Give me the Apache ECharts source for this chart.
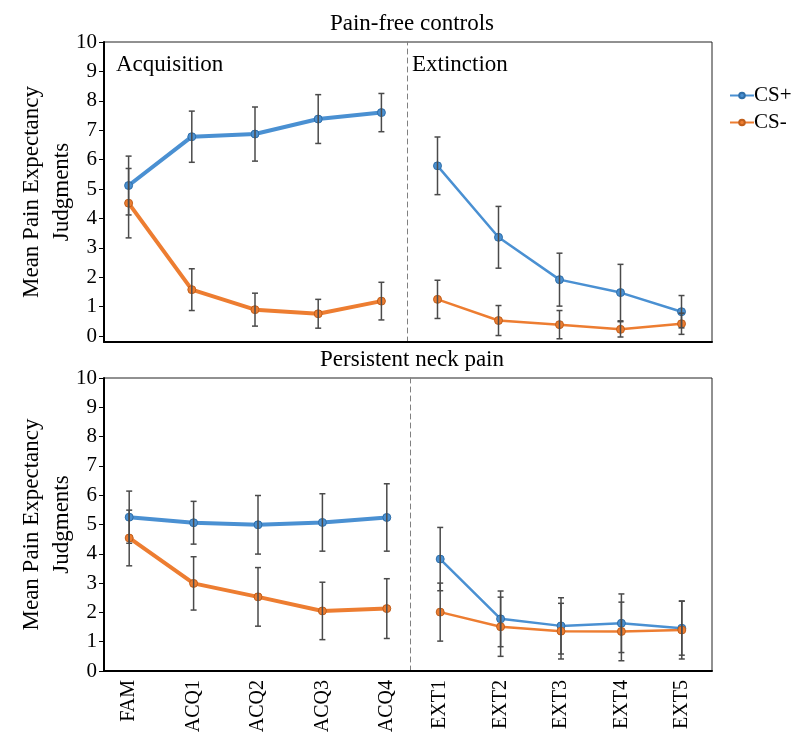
<!DOCTYPE html>
<html>
<head>
<meta charset="utf-8">
<script src="https://cdn.jsdelivr.net/npm/echarts@6/dist/echarts.min.js"></script>
<style>
html,body{margin:0;padding:0;background:#fff;}
#chart{width:793px;height:734px;}
</style>
</head>
<body>
<div id="chart"></div>
<script>
// ---------- data ----------
const categoriesAcq = ['FAM', 'ACQ1', 'ACQ2', 'ACQ3', 'ACQ4'];
const categoriesExt = ['EXT1', 'EXT2', 'EXT3', 'EXT4', 'EXT5'];
const yTicks = [0, 1, 2, 3, 4, 5, 6, 7, 8, 9, 10];
const panelTitles = ['Pain-free controls', 'Persistent neck pain'];
const yAxisName = 'Mean Pain Expectancy\nJudgments';
const seriesNames = ['CS+', 'CS-'];

// Pain-free controls
const pfPlusAcq = [5.12, 6.78, 6.87, 7.38, 7.60];
const pfPlusAcqErr = [1.00, 0.87, 0.92, 0.83, 0.65];
const pfMinusAcq = [4.52, 1.58, 0.90, 0.76, 1.19];
const pfMinusAcqErr = [1.18, 0.71, 0.56, 0.49, 0.64];
const pfPlusExt = [5.79, 3.36, 1.92, 1.48, 0.83];
const pfPlusExtErr = [0.98, 1.05, 0.90, 0.96, 0.55];
const pfMinusExt = [1.25, 0.53, 0.39, 0.23, 0.42];
const pfMinusExtErr = [0.65, 0.51, 0.48, 0.26, 0.36];

// Persistent neck pain
const npPlusAcq = [5.25, 5.06, 4.99, 5.07, 5.24];
const npPlusAcqErr = [0.89, 0.73, 1.00, 0.98, 1.15];
const npMinusAcq = [4.54, 2.99, 2.53, 2.05, 2.13];
const npMinusAcqErr = [0.95, 0.91, 1.00, 0.98, 1.02];
const npPlusExt = [3.82, 1.78, 1.54, 1.63, 1.46];
const npPlusExtErr = [1.08, 0.95, 0.96, 1.00, 0.92];
const npMinusExt = [2.01, 1.51, 1.36, 1.35, 1.40];
const npMinusExtErr = [0.99, 1.01, 0.95, 1.00, 0.99];

// ---------- styling ----------
const FONT = "'Liberation Serif', 'Times New Roman', serif";
const BLUE = '#4a90d2';
const BLUE_DARK = '#2f6ea8';
const ORANGE = '#ed7d31';
const ORANGE_DARK = '#c05f1c';
const ERR = '#4a4a4a';

const chart = echarts.init(document.getElementById('chart'), null, {renderer: 'canvas'});

function errData(cats, vals, errs) {
  return cats.map((c, i) => [c, vals[i] - errs[i], vals[i] + errs[i]]);
}

function errSeries(xi, cats, vals, errs) {
  return {
    type: 'custom',
    name: 'err',
    xAxisIndex: xi, yAxisIndex: xi,
    z: 5,
    silent: true,
    encode: {x: 0, y: [1, 2]},
    data: errData(cats, vals, errs),
    renderItem: function (params, api) {
      const xv = api.value(0);
      const lo = api.coord([xv, api.value(1)]);
      const hi = api.coord([xv, api.value(2)]);
      const hw = 3;
      const st = {stroke: ERR, lineWidth: 1.5};
      return {
        type: 'group',
        children: [
          {type: 'line', shape: {x1: lo[0], y1: lo[1], x2: hi[0], y2: hi[1]}, style: st},
          {type: 'line', shape: {x1: lo[0] - hw, y1: lo[1], x2: lo[0] + hw, y2: lo[1]}, style: st},
          {type: 'line', shape: {x1: hi[0] - hw, y1: hi[1], x2: hi[0] + hw, y2: hi[1]}, style: st}
        ]
      };
    }
  };
}

function lineSeries(xi, name, vals, color, dark, width, size) {
  return {
    type: 'line',
    name: name,
    xAxisIndex: xi, yAxisIndex: xi,
    data: vals,
    z: 3,
    symbol: 'circle',
    symbolSize: size,
    showSymbol: true,
    lineStyle: {color: color, width: width},
    itemStyle: {color: color, borderColor: dark, borderWidth: 1},
    emphasis: {disabled: true}
  };
}

const panels = [
  {top: 42, height: 300, ymin: -0.2, accLeft: 97, accW: 316, extLeft: 407, extW: 305, labels: false},
  {top: 378, height: 293, ymin: 0, accLeft: 97, accW: 322, extLeft: 410, extW: 302, labels: true}
];

const grids = [], xAxes = [], yAxes = [];
const gridBase = {containLabel: false, outerBoundsMode: 'none'};
panels.forEach((p, pi) => {
  // box grid
  grids.push(Object.assign({left: 104, top: p.top, width: 608, height: p.height, show: true, borderColor: '#222', borderWidth: 1, backgroundColor: 'transparent'}, gridBase));
  // acquisition grid
  grids.push(Object.assign({left: p.accLeft, top: p.top, width: p.accW, height: p.height}, gridBase));
  // extinction grid
  grids.push(Object.assign({left: p.extLeft, top: p.top, width: p.extW, height: p.height}, gridBase));

  const g0 = pi * 3;
  xAxes.push({
    gridIndex: g0, type: 'value', min: 0, max: 1,
    axisLine: {show: true, onZero: false, lineStyle: {color: '#000', width: 2}},
    axisTick: {show: false}, axisLabel: {show: false}, splitLine: {show: false}
  });
  yAxes.push({
    gridIndex: g0, type: 'value', min: p.ymin, max: 10,
    name: yAxisName, nameLocation: 'middle', nameRotate: 90, nameGap: 27, nameMoveOverlap: false,
    nameTextStyle: {fontFamily: FONT, fontSize: 23, color: '#000', lineHeight: 30},
    axisLine: {show: true, lineStyle: {color: '#000', width: 2}},
    axisTick: {show: true, inside: false, length: 5, lineStyle: {color: '#000', width: 1}, customValues: yTicks},
    axisLabel: {show: true, fontFamily: FONT, fontSize: 21, color: '#000', margin: 7, customValues: yTicks},
    splitLine: {show: false}
  });
  // acquisition axes
  xAxes.push({
    gridIndex: g0 + 1, type: 'category', data: categoriesAcq, boundaryGap: true,
    axisLine: {show: false}, axisTick: {show: false},
    axisLabel: {show: p.labels, rotate: 90, fontFamily: FONT, fontSize: 20, color: '#000', margin: 9, interval: 0},
    splitLine: {show: false}
  });
  yAxes.push({gridIndex: g0 + 1, type: 'value', min: p.ymin, max: 10, show: false});
  // extinction axes
  xAxes.push({
    gridIndex: g0 + 2, type: 'category', data: categoriesExt, boundaryGap: true,
    axisLine: {show: false}, axisTick: {show: false},
    axisLabel: {show: p.labels, rotate: 90, fontFamily: FONT, fontSize: 20, color: '#000', margin: 9, interval: 0},
    splitLine: {show: false}
  });
  yAxes.push({
    gridIndex: g0 + 2, type: 'value', min: p.ymin, max: 10,
    axisLine: {show: true, lineStyle: {color: '#808080', width: 1, type: [5, 4]}},
    axisTick: {show: false}, axisLabel: {show: false}, splitLine: {show: false}
  });
});

const series = [
  // pain-free controls
  lineSeries(1, seriesNames[0], pfPlusAcq, BLUE, BLUE_DARK, 4, 8),
  lineSeries(1, seriesNames[1], pfMinusAcq, ORANGE, ORANGE_DARK, 4, 8),
  lineSeries(2, seriesNames[0], pfPlusExt, BLUE, BLUE_DARK, 2.5, 8),
  lineSeries(2, seriesNames[1], pfMinusExt, ORANGE, ORANGE_DARK, 2.5, 8),
  errSeries(1, categoriesAcq, pfPlusAcq, pfPlusAcqErr),
  errSeries(1, categoriesAcq, pfMinusAcq, pfMinusAcqErr),
  errSeries(2, categoriesExt, pfPlusExt, pfPlusExtErr),
  errSeries(2, categoriesExt, pfMinusExt, pfMinusExtErr),
  // persistent neck pain
  lineSeries(4, seriesNames[0], npPlusAcq, BLUE, BLUE_DARK, 4, 8),
  lineSeries(4, seriesNames[1], npMinusAcq, ORANGE, ORANGE_DARK, 4, 8),
  lineSeries(5, seriesNames[0], npPlusExt, BLUE, BLUE_DARK, 2.5, 8),
  lineSeries(5, seriesNames[1], npMinusExt, ORANGE, ORANGE_DARK, 2.5, 8),
  errSeries(4, categoriesAcq, npPlusAcq, npPlusAcqErr),
  errSeries(4, categoriesAcq, npMinusAcq, npMinusAcqErr),
  errSeries(5, categoriesExt, npPlusExt, npPlusExtErr),
  errSeries(5, categoriesExt, npMinusExt, npMinusExtErr)
];

const option = {
  animation: false,
  backgroundColor: '#fff',
  title: [
    {text: panelTitles[0], left: 407, top: 7, textAlign: 'center', textStyle: {fontFamily: FONT, fontSize: 23, fontWeight: 'normal', color: '#000'}},
    {text: panelTitles[1], left: 407, top: 343, textAlign: 'center', textStyle: {fontFamily: FONT, fontSize: 23, fontWeight: 'normal', color: '#000'}}
  ],
  legend: {
    data: seriesNames,
    orient: 'vertical',
    left: 724, top: 80,
    itemWidth: 24, itemHeight: 7, itemGap: 6,
    lineStyle: {width: 2},
    textStyle: {fontFamily: FONT, fontSize: 21, color: '#000', padding: [0, 0, 0, -5]}
  },
  graphic: [
    {type: 'text', left: 116, top: 53, style: {text: 'Acquisition', font: "23px " + FONT, fill: '#000'}},
    {type: 'text', left: 412, top: 53, style: {text: 'Extinction', font: "23px " + FONT, fill: '#000'}}
  ],
  grid: grids,
  xAxis: xAxes,
  yAxis: yAxes,
  series: series
};

chart.setOption(option);
</script>
</body>
</html>
